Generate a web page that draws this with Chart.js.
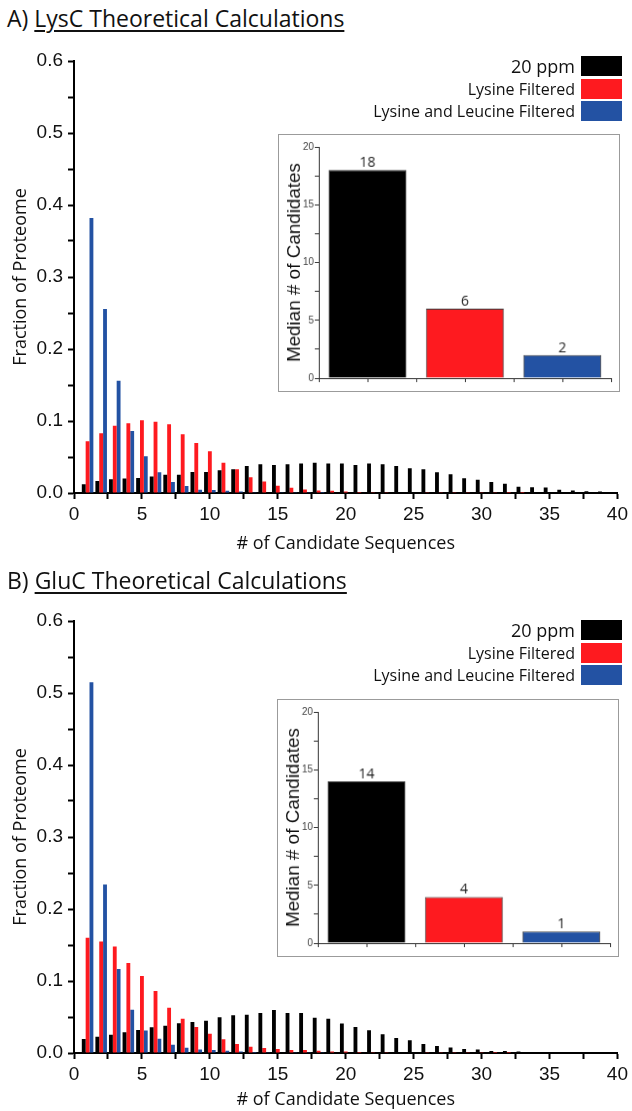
<!DOCTYPE html>
<html>
<head>
<meta charset="utf-8">
<script src="https://cdn.jsdelivr.net/npm/chart.js@4.4.1/dist/chart.umd.min.js"></script>
<style>
  html, body { margin: 0; padding: 0; background: #fff; overflow: hidden; }
  #page { position: relative; width: 632px; height: 1111px; }
  .title { position: absolute; left: 7px; font-family: 'Open Sans', sans-serif; font-size: 23px; color: #111; white-space: nowrap; line-height: 28px; }
  .title u { text-decoration-thickness: 1.5px; text-underline-offset: 3px; }
  canvas { position: absolute; }
  .inset { border: 1.5px solid #9b9b9b; background: #fff; }
  .legend { position: absolute; right: 10px; font-family: 'Open Sans', sans-serif; color: #111; }
  .legend .row { display: flex; align-items: center; justify-content: flex-end; height: 22.7px; white-space: nowrap; }
  .legend .sw { display: inline-block; width: 41px; height: 20px; margin-left: 6px; }
</style>
</head>
<body>
<div id="page">
  <div class="title" style="top:4px">A) <u>LysC Theoretical Calculations</u></div>
  <canvas id="mainA" width="632" height="525" style="left:0;top:40px"></canvas>
  <div class="legend" id="legendA" style="top:54.7px"></div>
  <canvas id="insetA" class="inset" width="342" height="258" style="left:278px;top:134px"></canvas>

  <div class="title" style="top:566px">B) <u>GluC Theoretical Calculations</u></div>
  <canvas id="mainB" width="632" height="511" style="left:0;top:600px"></canvas>
  <div class="legend" id="legendB" style="top:618.7px"></div>
  <canvas id="insetB" class="inset" width="342" height="258" style="left:276.5px;top:698.5px"></canvas>
</div>
<script>
// series shared by both panels
var seriesNames = ['20 ppm', 'Lysine Filtered', 'Lysine and Leucine Filtered'];
var seriesColors = ['#000000', '#fe1a1f', '#2352a3'];

var candidates = [1, 2, 3, 4, 5, 6, 7, 8, 9, 10, 11, 12, 13, 14, 15, 16, 17, 18, 19, 20,
  21, 22, 23, 24, 25, 26, 27, 28, 29, 30, 31, 32, 33, 34, 35, 36, 37, 38, 39];

// A) LysC
var lyscPpm = [0.012, 0.0167, 0.019, 0.020, 0.021, 0.023, 0.0255, 0.0255, 0.029, 0.029,
  0.0315, 0.033, 0.0375, 0.040, 0.039, 0.040, 0.041, 0.042, 0.041, 0.041,
  0.039, 0.041, 0.040, 0.0375, 0.0343, 0.033, 0.0287, 0.026, 0.0204, 0.0185,
  0.0153, 0.013, 0.0088, 0.008, 0.0077, 0.0046, 0.0035, 0.0023, 0.002];
var lyscLys = [0.072, 0.083, 0.0935, 0.097, 0.101, 0.099, 0.0954, 0.0815, 0.0694, 0.058,
  0.042, 0.033, 0.022, 0.016, 0.010, 0.0074, 0.005, 0.0035, 0.003, 0.002,
  0.0015, 0.0012, 0.001, 0.0008, 0.0006, 0.0005, 0.0004, 0.0003, 0.0003, 0.0002,
  0.0002, 0.0001, 0.0001, 0, 0, 0, 0, 0, 0];
var lyscLysLeu = [0.382, 0.2555, 0.156, 0.086, 0.051, 0.0287, 0.0153, 0.0097, 0.0046, 0.004,
  0.003, 0.002, 0.001, 0.0008, 0.0005, 0.0003, 0.0002, 0.0001, 0, 0,
  0, 0, 0, 0, 0, 0, 0, 0, 0, 0, 0, 0, 0, 0, 0, 0, 0, 0, 0];
var lyscMedians = [18, 6, 2];

// B) GluC
var glucPpm = [0.0194, 0.0226, 0.0254, 0.0287, 0.032, 0.0356, 0.038, 0.0412, 0.043, 0.0449,
  0.0495, 0.0523, 0.0532, 0.0556, 0.0597, 0.0556, 0.0556, 0.049, 0.0477, 0.041,
  0.0362, 0.0315, 0.026, 0.0208, 0.0176, 0.0125, 0.0097, 0.0075, 0.0056, 0.0047,
  0.0028, 0.0028, 0.002, 0.0015, 0.001, 0.001, 0.0008, 0.0005, 0.0005];
var glucLys = [0.16, 0.155, 0.148, 0.125, 0.107, 0.086, 0.063, 0.0477, 0.036, 0.0268,
  0.019, 0.0125, 0.0088, 0.007, 0.0056, 0.004, 0.004, 0.003, 0.002, 0.002,
  0.0015, 0.0012, 0.001, 0.0008, 0.0006, 0.0005, 0.0004, 0.0003, 0.0002, 0.0002,
  0.0001, 0.0001, 0, 0, 0, 0, 0, 0, 0];
var glucLysLeu = [0.515, 0.234, 0.1166, 0.060, 0.0314, 0.0199, 0.0115, 0.0074, 0.005, 0.004,
  0.003, 0.002, 0.0015, 0.001, 0.0007, 0.0005, 0.0003, 0.0002, 0, 0,
  0, 0, 0, 0, 0, 0, 0, 0, 0, 0, 0, 0, 0, 0, 0, 0, 0, 0, 0];
var glucMedians = [14, 4, 1];

var tickFont = { family: 'Liberation Sans', size: 19 };
var titleFont = { family: 'Open Sans', size: 18 };

function drawMain(id, series, xHeight, xTitlePad) {
  new Chart(document.getElementById(id), {
    type: 'bar',
    data: {
      datasets: series.map(function (vals, i) {
        return {
          label: seriesNames[i],
          data: vals.map(function (v, j) { return { x: candidates[j], y: v }; }),
          backgroundColor: seriesColors[i],
          borderWidth: 0,
          categoryPercentage: 0.85,
          barPercentage: 1
        };
      })
    },
    options: {
      responsive: false,
      animation: false,
      layout: { padding: { left: 0, right: 11, top: 21, bottom: 0 } },
      plugins: { legend: { display: false }, tooltip: { enabled: false } },
      scales: {
        x: {
          type: 'linear', min: 0, max: 40, offset: false,
          grid: { offset: false, drawOnChartArea: false, tickLength: 6, tickWidth: 2, tickColor: '#000' },
          border: { color: '#000', width: 2 },
          ticks: {
            stepSize: 2.5, maxTicksLimit: 100, autoSkip: false, maxRotation: 0, padding: 4,
            color: '#111', font: tickFont,
            callback: function (v) { return v % 5 === 0 ? v : ''; }
          },
          title: { display: true, text: '# of Candidate Sequences', color: '#111', font: titleFont, padding: { top: 0, bottom: xTitlePad } },
          afterFit: function (s) { s.height = xHeight; }
        },
        y: {
          min: 0, max: 0.6,
          grid: { drawOnChartArea: false, tickLength: 6, tickWidth: 2, tickColor: '#000' },
          border: { color: '#000', width: 2 },
          ticks: {
            stepSize: 0.05, maxTicksLimit: 100, autoSkip: false, padding: 5,
            color: '#111', font: tickFont,
            callback: function (v) { return Math.round(v * 100) % 10 === 0 ? v.toFixed(1) : ''; }
          },
          title: { display: true, text: 'Fraction of Proteome', color: '#111', font: titleFont, padding: { top: 10, bottom: 0 } },
          afterFit: function (s) { s.width = 74; }
        }
      }
    }
  });
}

// numbers above the median bars
var valueLabels = {
  id: 'valueLabels',
  afterDatasetsDraw: function (chart) {
    var ctx = chart.ctx;
    var ds = chart.data.datasets[0];
    ctx.save();
    ctx.font = '14px "Open Sans"';
    ctx.fillStyle = '#222';
    ctx.textAlign = 'center';
    ctx.textBaseline = 'alphabetic';
    chart.getDatasetMeta(0).data.forEach(function (bar, i) {
      ctx.fillText(ds.data[i].y, bar.x, bar.y - 3);
    });
    ctx.restore();
  }
};

function drawInset(id, medians) {
  new Chart(document.getElementById(id), {
    type: 'bar',
    data: {
      datasets: [{
        data: medians.map(function (v, i) { return { x: i + 1, y: v }; }),
        backgroundColor: seriesColors,
        borderColor: '#3a3a3a',
        borderWidth: 1,
        // tick spacing (0.5) sets the bar ruler, so double the share
        categoryPercentage: 1.6,
        barPercentage: 1
      }]
    },
    options: {
      responsive: false,
      animation: false,
      layout: { padding: { left: 0, right: 8, top: 12, bottom: 0 } },
      plugins: { legend: { display: false }, tooltip: { enabled: false } },
      scales: {
        x: {
          type: 'linear', min: 0.5, max: 3.5, offset: false,
          grid: { offset: false, drawOnChartArea: false, tickLength: 4, tickColor: '#333' },
          border: { color: '#333', width: 1 },
          ticks: { stepSize: 0.5, display: false },
          afterFit: function (s) { s.height = 13; }
        },
        y: {
          min: 0, max: 20,
          grid: { drawOnChartArea: false, tickLength: 4, tickColor: '#333' },
          border: { color: '#333', width: 1 },
          ticks: {
            stepSize: 2.5, autoSkip: false, padding: 1, color: '#444',
            font: { family: 'Liberation Sans', size: 10 },
            callback: function (v) { return v % 5 === 0 ? v : ''; }
          },
          title: { display: true, text: 'Median # of Candidates', color: '#111', font: { family: 'Liberation Sans', size: 19 }, padding: { top: 4, bottom: 0 } },
          afterFit: function (s) { s.width = 40; }
        }
      }
    },
    plugins: [valueLabels]
  });
}

function buildLegend(id) {
  var box = document.getElementById(id);
  seriesNames.forEach(function (name, i) {
    var row = document.createElement('div');
    row.className = 'row';
    row.style.fontSize = i === 0 ? '18px' : '16px';
    var txt = document.createElement('span');
    txt.textContent = name;
    var sw = document.createElement('span');
    sw.className = 'sw';
    sw.style.background = seriesColors[i];
    row.appendChild(txt);
    row.appendChild(sw);
    box.appendChild(row);
  });
}

drawMain('mainA', [lyscPpm, lyscLys, lyscLysLeu], 72, 10);
drawInset('insetA', lyscMedians);
buildLegend('legendA');

drawMain('mainB', [glucPpm, glucLys, glucLysLeu], 58, 0);
drawInset('insetB', glucMedians);
buildLegend('legendB');
</script>
</body>
</html>
